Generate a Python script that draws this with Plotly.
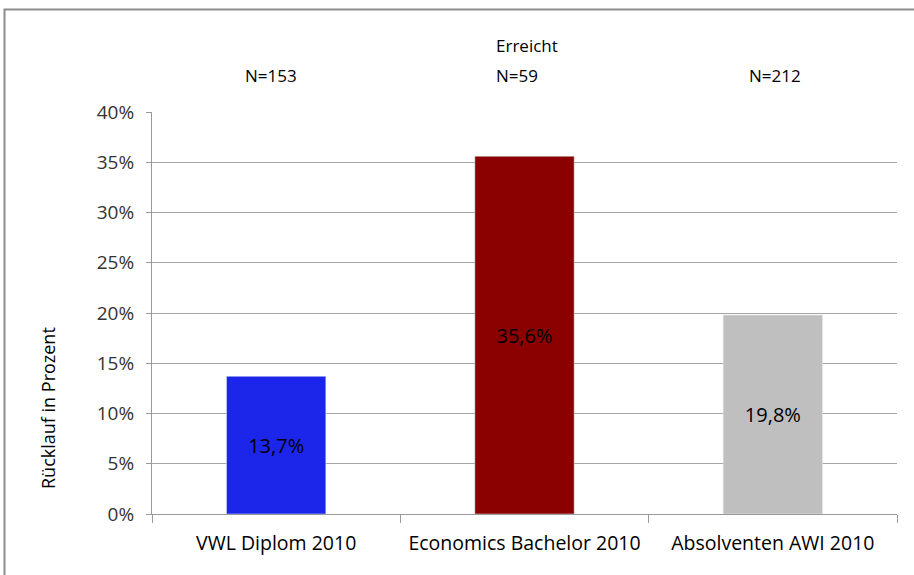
import plotly.graph_objects as go

categories = ["VWL Diplom 2010", "Economics Bachelor 2010", "Absolventen AWI 2010"]
values = [13.7, 35.6, 19.8]
value_labels = ["13,7%", "35,6%", "19,8%"]
n_labels = ["N=153", "N=59", "N=212"]
colors = ["#1c26ea", "#8b0000", "#bfbfbf"]
y_ticks = [0, 5, 10, 15, 20, 25, 30, 35, 40]
y_tick_labels = [f"{v}%" for v in y_ticks]

W, H = 914, 575
L, R, T, B = 152, 17, 112, 61
PW, PH = W - L - R, H - T - B
FONT = "Open Sans"


def px_x(x):
    return (x - L) / PW


def px_y(y):
    return (H - B - y) / PH


fig = go.Figure(go.Bar(
    x=categories, y=values, marker_color=colors, width=0.4,
    text=value_labels, textposition="inside", insidetextanchor="middle",
    textfont=dict(family=FONT, size=20, color="black"),
    hoverinfo="skip",
))

fig.update_layout(
    width=W, height=H,
    margin=dict(l=L, r=R, t=T, b=B),
    paper_bgcolor="white", plot_bgcolor="white",
    showlegend=False,
    font=dict(family=FONT, size=17, color="#222222"),
    uniformtext=dict(minsize=8, mode="show"),
)
fig.update_xaxes(
    showgrid=False, showline=True, linecolor="#9a9a9a", linewidth=1,
    ticks="outside", ticklen=8, tickcolor="#9a9a9a", tickson="boundaries",
    tickfont=dict(family=FONT, size=19.5, color="black"),
    ticklabelstandoff=12,
)
fig.update_yaxes(
    range=[0, 40], tickvals=y_ticks, ticktext=y_tick_labels,
    showgrid=True, gridcolor="#a6a6a6", gridwidth=1,
    showline=True, linecolor="#9a9a9a", linewidth=1,
    ticks="outside", ticklen=5, tickcolor="#9a9a9a",
    tickfont=dict(family=FONT, size=19, color="#333333"),
    ticklabelstandoff=8, zeroline=False,
)

# frame around the chart (top and left edges visible)
fig.add_shape(type="rect", xref="paper", yref="paper",
              x0=px_x(4.5), x1=px_x(W + 20),
              y0=px_y(H + 20), y1=px_y(9.5),
              line=dict(color="#8c8c8c", width=2), fillcolor="rgba(0,0,0,0)",
              layer="above")

fig.add_annotation(text="Erreicht", xref="paper", yref="paper",
                   x=px_x(527), y=px_y(46), xanchor="center", yanchor="middle",
                   showarrow=False, font=dict(family=FONT, size=17, color="black"))
for cat, lab, shift in zip(categories, n_labels, [-5, -8, 2]):
    fig.add_annotation(text=lab, x=cat, xref="x", yref="paper",
                       y=px_y(76), xshift=shift, xanchor="center", yanchor="middle",
                       showarrow=False, font=dict(family=FONT, size=17, color="black"))

fig.add_annotation(text="Rücklauf in Prozent", xref="paper", yref="paper",
                   x=px_x(48), y=px_y(408), xanchor="center", yanchor="middle",
                   textangle=-90, showarrow=False,
                   font=dict(family=FONT, size=18, color="black"))

fig.write_html("out.html")
